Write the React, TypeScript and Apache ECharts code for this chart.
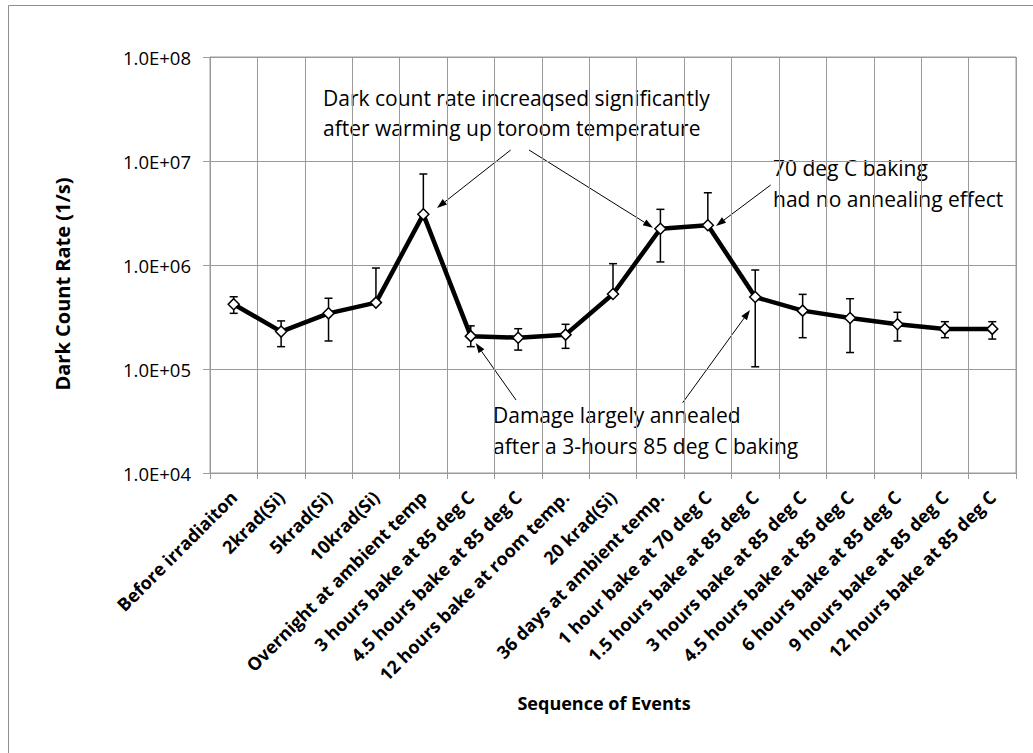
import React, { useEffect, useRef } from "react";
import * as echarts from "echarts";

const categories = [
  "Before irradiaiton",
  "2krad(Si)",
  "5krad(Si)",
  "10krad(Si)",
  "Overnight at ambient temp",
  "3 hours bake at 85 deg C",
  "4.5 hours bake at 85 deg C",
  "12 hours bake at room temp.",
  "20 krad(Si)",
  "36 days at ambient temp.",
  "1 hour bake at 70 deg C",
  "1.5 hours bake at 85 deg C",
  "3 hours bake at 85 deg C",
  "4.5 hours bake at 85 deg C",
  "6 hours bake at 85 deg C",
  "9 hours bake at 85 deg C",
  "12 hours bake at 85 deg C",
];

const rates = [
  4.2e5, 2.29e5, 3.43e5, 4.35e5, 3.07e6, 2.07e5, 2.0e5, 2.14e5, 5.26e5,
  2.23e6, 2.41e6, 4.92e5, 3.64e5, 3.09e5, 2.69e5, 2.43e5, 2.43e5,
];
const errHigh = [
  4.95e5, 2.9e5, 4.79e5, 9.35e5, 7.5e6, 2.6e5, 2.44e5, 2.69e5, 1.03e6,
  3.43e6, 4.95e6, 8.95e5, 5.22e5, 4.74e5, 3.51e5, 2.85e5, 2.85e5,
];
const errLow = [
  3.43e5, 1.64e5, 1.86e5, 4.35e5, 3.07e6, 1.64e5, 1.52e5, 1.58e5, 5.26e5,
  1.07e6, 2.41e6, 1.05e5, 2.0e5, 1.44e5, 1.86e5, 2.0e5, 1.94e5,
];

const yTickValues = [1e4, 1e5, 1e6, 1e7, 1e8];

const annotationLines = [
  { text: "Dark count rate increaqsed significantly", x: 323, y: 98 },
  { text: "after warming up toroom temperature", x: 323, y: 128 },
  { text: "70 deg C baking", x: 773, y: 168 },
  { text: "had no annealing effect", x: 773, y: 199 },
  { text: "Damage largely annealed", x: 493, y: 415 },
  { text: "after a 3-hours 85 deg C baking", x: 493, y: 446 },
];

const arrows = [
  [510.7, 150, 437, 208],
  [529, 150, 653, 227.7],
  [770.7, 185, 716, 226],
  [516, 400, 475.7, 343],
  [682.7, 402.7, 750, 310],
];

const FONT = "'Open Sans', 'Noto Sans', sans-serif";

function fmtExp(v: number): string {
  const e = Math.round(Math.log10(v));
  const m = v / Math.pow(10, e);
  return m.toFixed(1) + "E+" + String(e).padStart(2, "0");
}

function arrowGraphics(a: number[]) {
  const [x1, y1, x2, y2] = a;
  const ang = Math.atan2(y2 - y1, x2 - x1);
  const len = 10;
  const w = 3.5;
  const bx = x2 - len * Math.cos(ang);
  const by = y2 - len * Math.sin(ang);
  const px = -Math.sin(ang) * w;
  const py = Math.cos(ang) * w;
  return [
    {
      type: "line",
      shape: { x1, y1, x2: bx, y2: by },
      style: { stroke: "#000", lineWidth: 1 },
      silent: true,
    },
    {
      type: "polygon",
      shape: {
        points: [
          [x2, y2],
          [bx + px, by + py],
          [bx - px, by - py],
        ],
      },
      style: { fill: "#000" },
      silent: true,
    },
  ];
}

export default function App() {
  const ref = useRef<HTMLDivElement>(null);

  useEffect(() => {
    if (!ref.current) return;
    const chart = echarts.init(ref.current, null, { renderer: "svg" });

    const errData = categories.map((_, i) => [i, errLow[i], errHigh[i]]);

    const graphics: any[] = [
      {
        type: "rect",
        shape: { x: 8.5, y: 5.5, width: 1100, height: 900 },
        style: { fill: "none", stroke: "#8e8e8e", lineWidth: 1 },
        silent: true,
        z: -10,
      },
      {
        type: "text",
        x: 62,
        y: 284,
        rotation: Math.PI / 2,
        style: {
          text: "Dark Count Rate (1/s)",
          font: `bold 20px ${FONT}`,
          fill: "#000",
          align: "center",
          verticalAlign: "middle",
        },
      },
      {
        type: "text",
        x: 604,
        y: 703,
        style: {
          text: "Sequence of Events",
          font: `bold 18px ${FONT}`,
          fill: "#000",
          align: "center",
          verticalAlign: "middle",
        },
      },
      ...annotationLines.map((t) => ({
        type: "text",
        x: t.x,
        y: t.y,
        style: {
          text: t.text,
          font: `21px ${FONT}`,
          fill: "#000",
          align: "left",
          verticalAlign: "middle",
        },
      })),
      ...arrows.flatMap(arrowGraphics),
    ];

    chart.setOption({
      animation: false,
      backgroundColor: "#fff",
      grid: {
        left: 210,
        top: 57,
        width: 806,
        height: 416,
        show: true,
        borderColor: "#9a9a9a",
        borderWidth: 1,
        containLabel: false,
      },
      xAxis: {
        type: "category",
        data: categories,
        boundaryGap: true,
        axisLine: { show: true, lineStyle: { color: "#9a9a9a", width: 1 } },
        axisTick: { show: true, inside: false, length: 6, lineStyle: { color: "#9a9a9a" } },
        splitLine: { show: true, lineStyle: { color: "#9a9a9a", width: 1 } },
        axisLabel: {
          interval: 0,
          rotate: 45,
          margin: 21,
          color: "#000",
          fontFamily: FONT,
          fontWeight: "bold",
          fontSize: 18,
        },
      },
      yAxis: {
        type: "log",
        logBase: 10,
        min: yTickValues[0],
        max: yTickValues[yTickValues.length - 1],
        axisLine: { show: true, lineStyle: { color: "#9a9a9a", width: 1 } },
        axisTick: { show: true, inside: false, length: 7, lineStyle: { color: "#9a9a9a" } },
        splitLine: { show: true, lineStyle: { color: "#9a9a9a", width: 1 } },
        axisLabel: {
          formatter: (v: number) => fmtExp(v),
          color: "#000",
          fontFamily: FONT,
          fontSize: 18.5,
          margin: 19,
        },
      },
      series: [
        {
          type: "custom",
          name: "error",
          z: 2,
          data: errData,
          encode: { x: 0, y: [1, 2] },
          renderItem: (params: any, api: any) => {
            const i = api.value(0);
            const lo = api.coord([i, api.value(1)]);
            const hi = api.coord([i, api.value(2)]);
            const cap = 4;
            const st = { stroke: "#000", lineWidth: 1.5 };
            return {
              type: "group",
              children: [
                { type: "line", shape: { x1: lo[0], y1: lo[1], x2: hi[0], y2: hi[1] }, style: st },
                { type: "line", shape: { x1: hi[0] - cap, y1: hi[1], x2: hi[0] + cap, y2: hi[1] }, style: st },
                { type: "line", shape: { x1: lo[0] - cap, y1: lo[1], x2: lo[0] + cap, y2: lo[1] }, style: st },
              ],
            };
          },
        },
        {
          type: "line",
          name: "Dark Count Rate",
          z: 3,
          data: rates,
          lineStyle: { color: "#000", width: 4.5 },
          itemStyle: { color: "#fff", borderColor: "#000", borderWidth: 1.5 },
          symbol: "diamond",
          symbolSize: 11,
          showAllSymbol: true,
        },
      ],
      graphic: graphics,
    });

    return () => chart.dispose();
  }, []);

  return (
    <div
      ref={ref}
      style={{ position: "absolute", left: 0, top: 0, width: 1033, height: 753 }}
    />
  );
}
